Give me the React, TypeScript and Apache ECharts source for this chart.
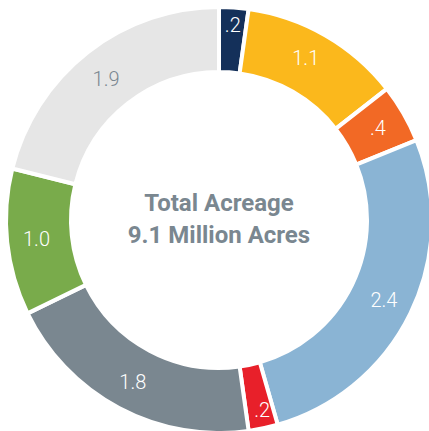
import React, { useEffect, useRef } from "react";
import * as echarts from "echarts";

const categories = ["A", "B", "C", "D", "E", "F", "G", "H"];
const values = [0.2, 1.1, 0.4, 2.4, 0.2, 1.8, 1.0, 1.9];
const labels = [".2", "1.1", ".4", "2.4", ".2", "1.8", "1.0", "1.9"];
const colors = ["#14305A", "#FBB81C", "#F26925", "#8AB4D4", "#E8202A", "#7A8790", "#79AB4B", "#E6E6E6"];
const labelColors = ["#FFFFFF", "#FFFFFF", "#FFFFFF", "#FFFFFF", "#FFFFFF", "#FFFFFF", "#FFFFFF", "#7A8790"];
const labelOffsets: [number, number][] = [[1, -12], [-5, -3], [0, 0], [0, 0], [5, 11], [0, 0], [0, 0], [0, 4]];
const centerTitle = "Total Acreage";
const centerSubtitle = "9.1 Million Acres";

export default function App() {
  const ref = useRef<HTMLDivElement>(null);
  useEffect(() => {
    document.body.style.margin = "0";
    const chart = echarts.init(ref.current!, null, { renderer: "svg" });
    chart.setOption({
      animation: false,
      graphic: [
        {
          type: "text",
          x: 219,
          y: 203,
          style: {
            text: centerTitle,
            fontSize: 24,
            fontWeight: "bold",
            fontFamily: "Roboto",
            fill: "#7A8790",
            align: "center",
            verticalAlign: "middle",
          },
        },
        {
          type: "text",
          x: 219,
          y: 235,
          style: {
            text: centerSubtitle,
            fontSize: 24,
            fontWeight: "bold",
            fontFamily: "Roboto",
            fill: "#7A8790",
            align: "center",
            verticalAlign: "middle",
          },
        },
      ],
      series: [
        {
          type: "pie",
          center: [219, 220],
          radius: [148, 213],
          startAngle: 90,
          clockwise: true,
          avoidLabelOverlap: false,
          itemStyle: { borderColor: "#FFFFFF", borderWidth: 4 },
          label: {
            show: true,
            position: "inside",
            fontSize: 20,
            fontFamily: "Roboto",
            fontWeight: 300,
          },
          labelLine: { show: false },
          data: categories.map((c, i) => ({
            name: c,
            value: values[i],
            itemStyle: { color: colors[i] },
            label: {
              formatter: labels[i],
              color: labelColors[i],
              offset: labelOffsets[i],
            },
          })),
        },
      ],
    });
    return () => chart.dispose();
  }, []);
  return <div ref={ref} style={{ width: 429, height: 431 }} />;
}
